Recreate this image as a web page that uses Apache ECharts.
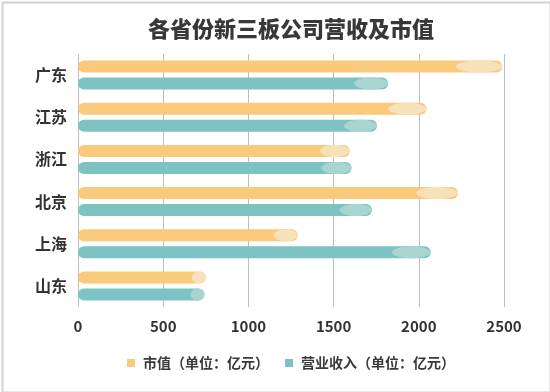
<!DOCTYPE html>
<html>
<head>
<meta charset="utf-8">
<script src="https://cdn.jsdelivr.net/npm/echarts@6/dist/echarts.min.js"></script>
<style>
html,body{margin:0;padding:0;background:#fff;}
#c{width:550px;height:392px;}
</style>
</head>
<body>
<div id="c"></div>
<script>
var categories = ['广东', '江苏', '浙江', '北京', '上海', '山东'];
var marketValue = [2490, 2045, 1595, 2230, 1290, 750];
var revenue = [1820, 1755, 1605, 1725, 2070, 742];
var xTicks = [0, 500, 1000, 1500, 2000, 2500];
var seriesNames = ['市值（单位：亿元）', '营业收入（单位：亿元）'];

var FONT = '"Noto Sans CJK SC", "Noto Sans", sans-serif';
var colors = ['#F9C97C', '#7DC3C3'];
var hiColors = ['#F6E1B8', '#A8D5D0'];
var offsets = [-8.5, 8.5];
var BAR_H = 12;

function makeRender(idx) {
  return function (params, api) {
    var v = api.value(0), c = api.value(1);
    var s = api.coord([0, c]);
    var e = api.coord([v, c]);
    var y = s[1] + offsets[idx];
    var len = e[0] - s[0];
    var hl = Math.max(len * 0.11, 10);
    return {
      type: 'group',
      children: [
        { type: 'rect', shape: { x: s[0], y: y - BAR_H / 2, width: len, height: BAR_H, r: BAR_H / 2 }, style: { fill: colors[idx] } },
        { type: 'ellipse', shape: { cx: e[0] - hl / 2, cy: y, rx: hl / 2, ry: BAR_H / 2 }, style: { fill: hiColors[idx] } }
      ]
    };
  };
}

var chart = echarts.init(document.getElementById('c'), null, { renderer: 'canvas' });
chart.setOption({
  backgroundColor: '#fff',
  animation: false,
  title: {
    text: '各省份新三板公司营收及市值',
    left: 143,
    top: 13,
    textStyle: { fontFamily: FONT, fontSize: 22, fontWeight: 900, color: '#383838' }
  },
  graphic: [{
    type: 'rect', left: 0, top: 0, z: 100,
    shape: { x: 1, y: 1, width: 548, height: 390 },
    style: { fill: null, stroke: '#d2d2d2', lineWidth: 2 }
  }],
  legend: {
    bottom: 17,
    left: 122,
    itemWidth: 8,
    itemHeight: 8,
    itemGap: 16,
    icon: 'rect',
    textStyle: { fontFamily: FONT, fontSize: 14, fontWeight: 'bold', color: '#3a3a3a', padding: [0, 0, 0, 3] },
    data: seriesNames
  },
  grid: { left: 78, right: 46, top: 54, bottom: 85, containLabel: false },
  xAxis: {
    type: 'value',
    min: xTicks[0],
    max: xTicks[xTicks.length - 1],
    interval: 500,
    axisLine: { show: false },
    axisTick: { show: false },
    splitLine: { show: true, lineStyle: { color: '#bdbdbd', width: 1 } },
    axisLabel: { margin: 12, fontFamily: FONT, fontSize: 15, fontWeight: 'bold', color: '#333',
      formatter: function (v) { return String(v); } }
  },
  yAxis: {
    type: 'category',
    data: categories,
    inverse: true,
    axisLine: { show: false },
    axisTick: { show: false },
    axisLabel: { margin: 11, fontFamily: FONT, fontSize: 16, fontWeight: 'bold', color: '#333' }
  },
  series: [
    {
      name: seriesNames[0], type: 'custom', itemStyle: { color: colors[0] },
      renderItem: makeRender(0), encode: { x: 0, y: 1 },
      data: marketValue.map(function (v, i) { return [v, i]; })
    },
    {
      name: seriesNames[1], type: 'custom', itemStyle: { color: colors[1] },
      renderItem: makeRender(1), encode: { x: 0, y: 1 },
      data: revenue.map(function (v, i) { return [v, i]; })
    }
  ]
});
</script>
</body>
</html>
